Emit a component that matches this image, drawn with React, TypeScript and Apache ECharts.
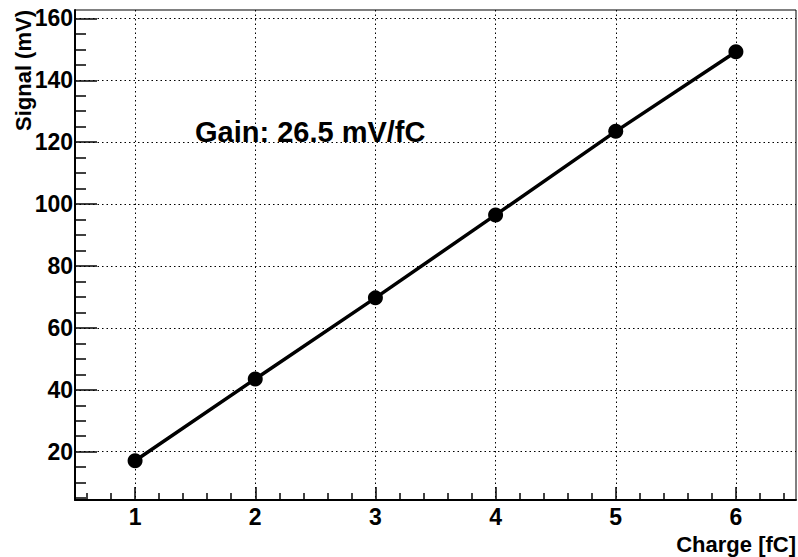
import React, { useEffect, useRef } from "react";
import * as echarts from "echarts";

const charge = [1, 2, 3, 4, 5, 6];
const signal = [17.1, 43.5, 69.7, 96.5, 123.5, 149.2];
const xMajor = [1, 2, 3, 4, 5, 6];
const xMinor = [0.6, 0.8, 1.2, 1.4, 1.6, 1.8, 2.2, 2.4, 2.6, 2.8, 3.2, 3.4, 3.6, 3.8, 4.2, 4.4, 4.6, 4.8, 5.2, 5.4, 5.6, 5.8, 6.2, 6.4];
const yMajor = [20, 40, 60, 80, 100, 120, 140, 160];
const yMinor = [5, 10, 15, 25, 30, 35, 45, 50, 55, 65, 70, 75, 85, 90, 95, 105, 110, 115, 125, 130, 135, 145, 150, 155];
const xTitle = "Charge [fC]";
const yTitle = "Signal (mV)";
const annotation = "Gain: 26.5 mV/fC";

const FONT = "'Liberation Sans', Arial, Helvetica, sans-serif";

export default function App() {
  const ref = useRef<HTMLDivElement>(null);
  useEffect(() => {
    if (!ref.current) return;
    const chart = echarts.init(ref.current, undefined, { renderer: "svg" });
    const xMin = 0.5, xMax = 6.5, yMin = 4.4, yMax = 162.7;
    const labelStyle = { color: "#000", fontFamily: FONT, fontWeight: "bold" as const, fontSize: 23 };
    chart.setOption({
      animation: false,
      backgroundColor: "#fff",
      grid: { left: 75, right: 2, top: 10, bottom: 57, show: true, borderColor: "#000", borderWidth: 1, backgroundColor: "transparent" },
      xAxis: [
        {
          type: "value", min: xMin, max: xMax, position: "bottom",
          axisLine: { show: true, onZero: false, lineStyle: { color: "#000", width: 2 } },
          axisTick: { show: true, inside: true, length: 13, customValues: xMajor, lineStyle: { color: "#000", width: 1.5 } },
          axisLabel: { show: true, customValues: xMajor, margin: 5, ...labelStyle },
          splitLine: { show: true, lineStyle: { color: "#000", width: 1, type: [1.5, 3] } },
        },
        {
          type: "value", min: xMin, max: xMax, position: "bottom",
          axisLine: { show: false },
          axisTick: { show: true, inside: true, length: 7, customValues: xMinor, lineStyle: { color: "#000", width: 1.5 } },
          axisLabel: { show: false },
          splitLine: { show: false },
        },
      ],
      yAxis: [
        {
          type: "value", min: yMin, max: yMax, position: "left",
          axisLine: { show: true, onZero: false, lineStyle: { color: "#000", width: 2 } },
          axisTick: { show: true, inside: true, length: 22, customValues: yMajor, lineStyle: { color: "#000", width: 1.5 } },
          axisLabel: { show: true, customValues: yMajor, margin: 2, padding: [8, 0, 0, 0], ...labelStyle },
          splitLine: { show: true, lineStyle: { color: "#000", width: 1, type: [1.5, 3] } },
        },
        {
          type: "value", min: yMin, max: yMax, position: "left",
          axisLine: { show: false },
          axisTick: { show: true, inside: true, length: 11, customValues: yMinor, lineStyle: { color: "#000", width: 1.5 } },
          axisLabel: { show: false },
          splitLine: { show: false },
        },
      ],
      series: [
        {
          type: "line",
          xAxisIndex: 0, yAxisIndex: 0,
          data: charge.map((c, i) => [c, signal[i]]),
          symbol: "circle",
          symbolSize: 15,
          itemStyle: { color: "#000" },
          lineStyle: { color: "#000", width: 3.5 },
          z: 5,
        },
      ],
      graphic: [
        {
          type: "text", x: 195, y: 132,
          style: { text: annotation, fill: "#000", font: `bold 29px ${FONT}`, textAlign: "left", textVerticalAlign: "middle" },
          z: 10,
        },
        {
          type: "text", x: 796, y: 544,
          style: { text: xTitle, fill: "#000", font: `bold 22px ${FONT}`, textAlign: "right", textVerticalAlign: "middle" },
        },
        {
          type: "text", x: 23, y: 10, rotation: Math.PI / 2,
          style: { text: yTitle, fill: "#000", font: `bold 22px ${FONT}`, textAlign: "right", textVerticalAlign: "middle" },
        },
      ],
    });
    return () => chart.dispose();
  }, []);
  return <div ref={ref} style={{ width: 798, height: 557, position: "absolute", left: 0, top: 0 }} />;
}
